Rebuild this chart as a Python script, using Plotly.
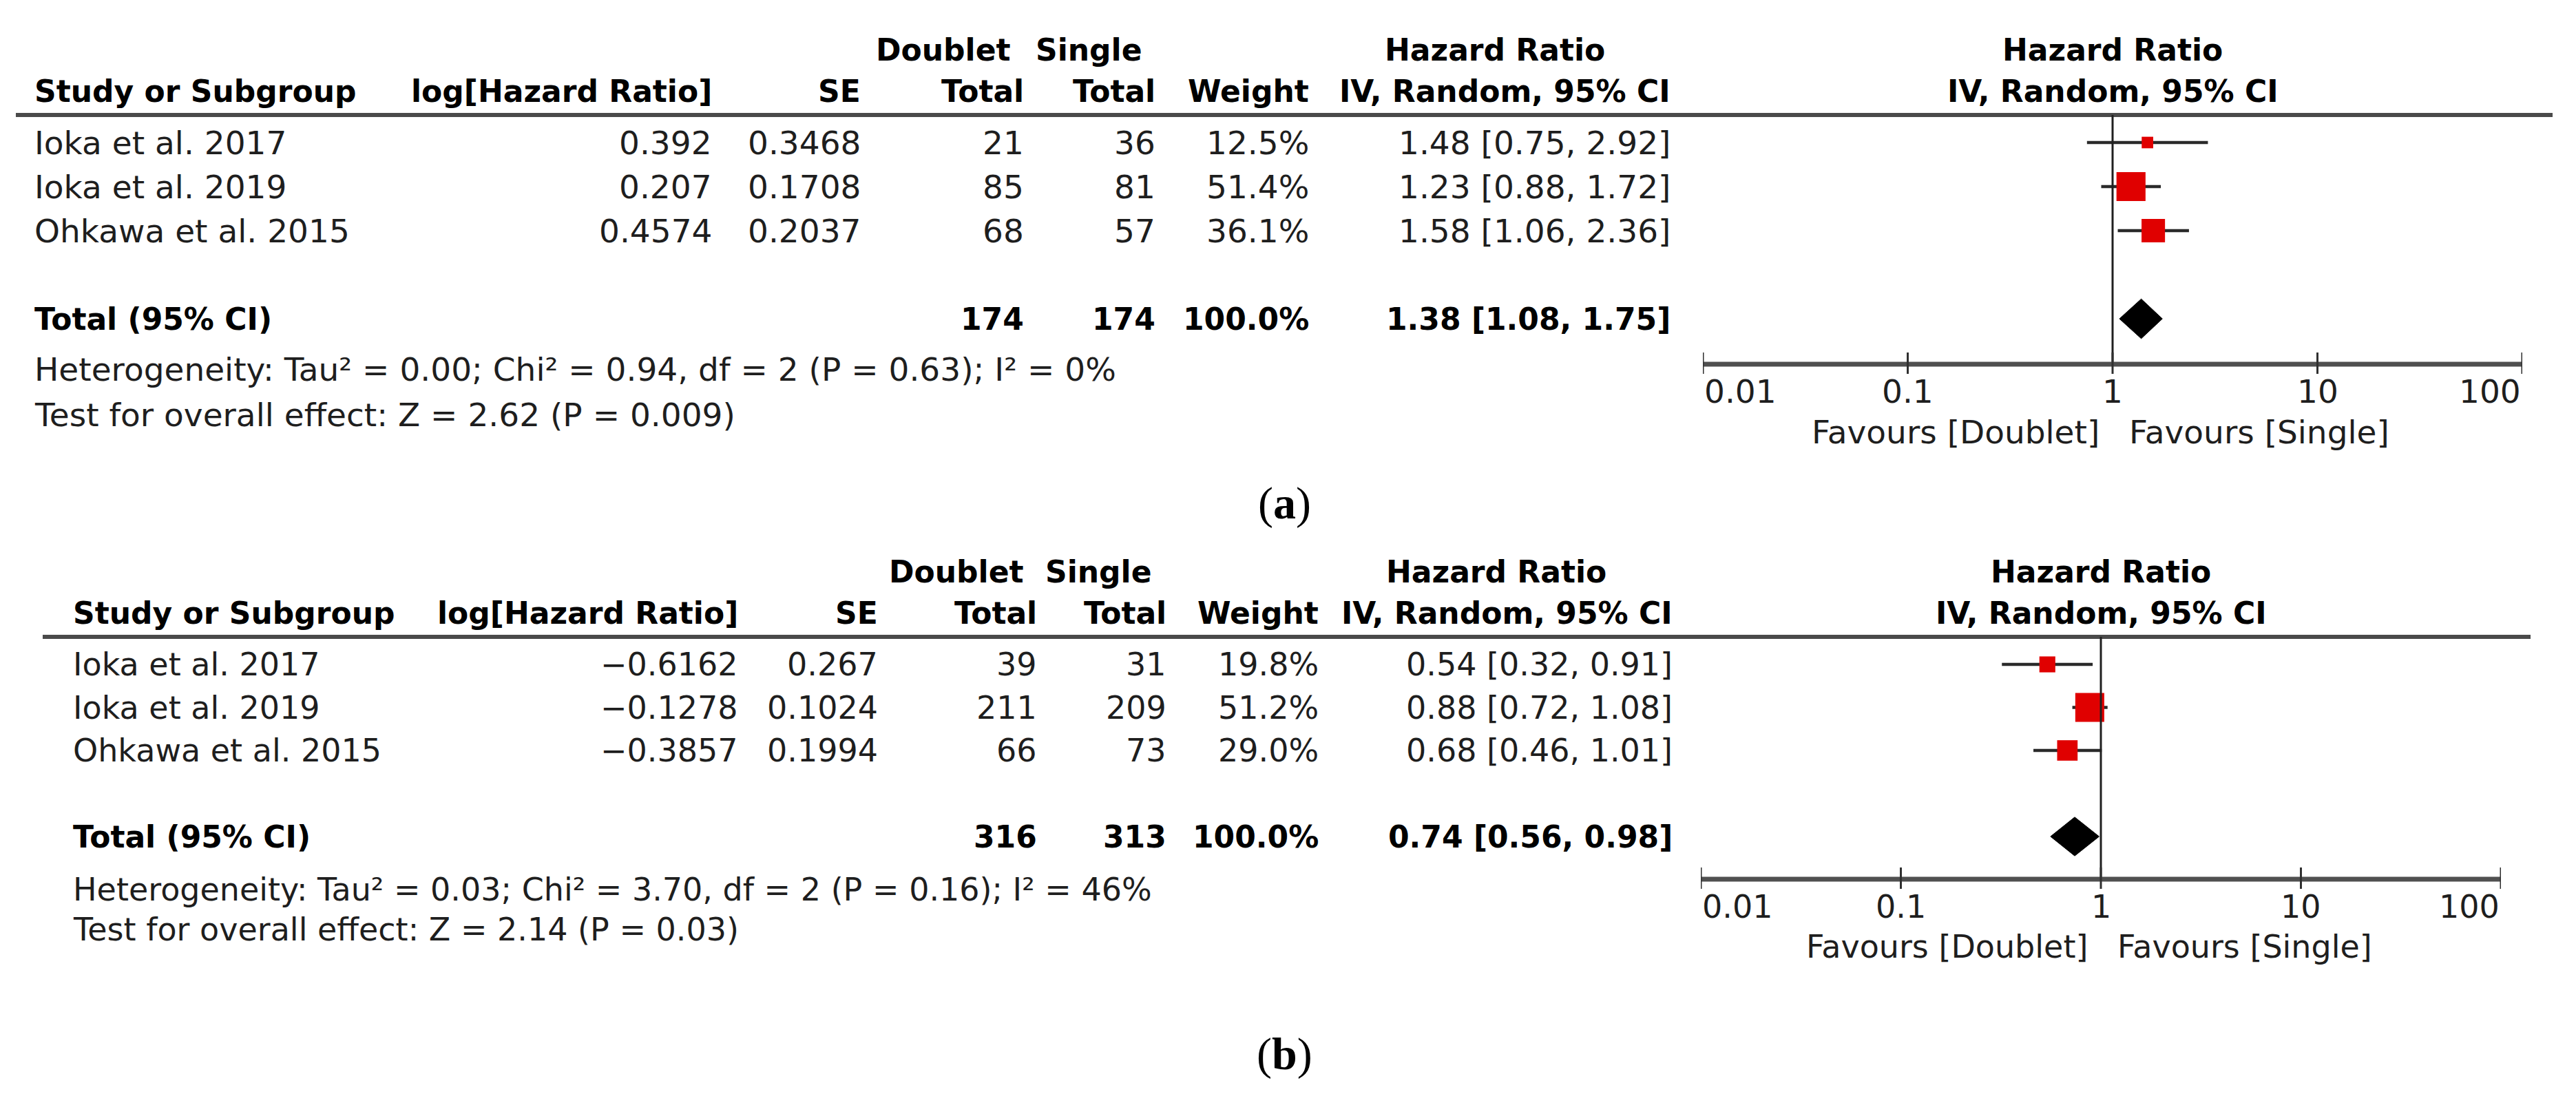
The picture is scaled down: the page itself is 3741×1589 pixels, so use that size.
import math
import plotly.graph_objects as go

W, H = 3741, 1589
FONT = "DejaVu Sans"
SERIF = "Liberation Serif"
TXT = "#1e1e1e"
RED = "#e00000"

# ---------------- data ----------------
studies = ["Ioka et al. 2017", "Ioka et al. 2019", "Ohkawa et al. 2015"]

a_log_hr = [0.392, 0.207, 0.4574]
a_se = [0.3468, 0.1708, 0.2037]
a_doublet = [21, 85, 68]
a_single = [36, 81, 57]
a_weight = [12.5, 51.4, 36.1]
a_hr = [1.48, 1.23, 1.58]
a_lo = [0.75, 0.88, 1.06]
a_hi = [2.92, 1.72, 2.36]
a_total = [174, 174, 100.0, 1.38, 1.08, 1.75]   # doublet, single, weight, HR, lo, hi
a_het = [0.00, 0.94, 2, "0.63", 0]               # tau2, chi2, df, P, I2
a_test = [2.62, "0.009"]                          # Z, P

b_log_hr = [-0.6162, -0.1278, -0.3857]
b_se = [0.267, 0.1024, 0.1994]
b_doublet = [39, 211, 66]
b_single = [31, 209, 73]
b_weight = [19.8, 51.2, 29.0]
b_hr = [0.54, 0.88, 0.68]
b_lo = [0.32, 0.72, 0.46]
b_hi = [0.91, 1.08, 1.01]
b_total = [316, 313, 100.0, 0.74, 0.56, 0.98]
b_het = [0.03, 3.70, 2, "0.16", 46]
b_test = [2.14, "0.03"]

tick_vals = [0.01, 0.1, 1, 10, 100]
tick_text = ["0.01", "0.1", "1", "10", "100"]
fav_left, fav_right = "Favours [Doublet]", "Favours [Single]"
panel_labels = ["a", "b"]

# ---------------- layout geometry (pixels) ----------------
PA = dict(name_x=48, loghr_r=1036, se_r=1252, dbl_r=1489, sgl_r=1680, wt_r=1903, ci_r=2428,
          ax_l=2473, ax_r=3663, line_l=23, line_r=3707, hdr1=72, hdr2=133, hline=167,
          row0=207, step=64, axis_y=529, tick_y=568, fav_y=628, het_y=537, test_y=602,
          dbl_hdr_r=1470, sgl_hdr_r=1661, mid_hr_c=2171, label_y=731, fs=47, fsb=44)
PB = dict(name_x=104, loghr_r=1074, se_r=1277, dbl_r=1508, sgl_r=1696, wt_r=1917, ci_r=2431,
          ax_l=2470, ax_r=3632, line_l=62, line_r=3675, hdr1=830, hdr2=890, hline=925,
          row0=965, step=62.5, axis_y=1277, tick_y=1317, fav_y=1375, het_y=1292, test_y=1350,
          dbl_hdr_r=1489, sgl_hdr_r=1675, mid_hr_c=2173, label_y=1531, fs=46, fsb=44)


def X(p):
    return p / W


def Y(p):
    return 1 - p / H


def fmt_num(v):
    s = str(v)
    return s.replace("-", "\u2212")


fig = go.Figure()
annotations = []
shapes = []


def ann(text, x, y, xanchor, size, bold=False, xref="paper", yref="paper", family=FONT, color=TXT, xshift=0):
    annotations.append(dict(
        text=text, x=x, y=y, xref=xref, yref=yref,
        xanchor=xanchor, yanchor="middle", showarrow=False, xshift=xshift,
        font=dict(family=family, size=size, color=("black" if bold else color),
                  weight=("bold" if bold else "normal"))))


def panel(P, sfx, log_hr, se, dbl, sgl, wt, hr, lo, hi, total, het, test, label):
    xa = "x" + sfx
    ya = "y" + sfx
    xk = "xaxis" + sfx
    yk = "yaxis" + sfx
    rmin = (P["axis_y"] - P["row0"]) / P["step"]
    rmax = (P["hline"] - P["row0"]) / P["step"]
    fig.layout[xk] = dict(type="log", range=[-2, 2], domain=[X(P["ax_l"]), X(P["ax_r"])],
                          anchor=ya, visible=False, fixedrange=True)
    fig.layout[yk] = dict(range=[rmin, rmax], domain=[Y(P["axis_y"]), Y(P["hline"])],
                          anchor=xa, visible=False, fixedrange=True)
    rows = list(range(len(hr)))
    total_row = len(hr) + 1
    fs, fsb = P["fs"], P["fsb"]

    # headers
    ann("Doublet", X(P["dbl_hdr_r"]), Y(P["hdr1"]), "right", fsb, True)
    ann("Single", X(P["sgl_hdr_r"]), Y(P["hdr1"]), "right", fsb, True)
    ann("Hazard Ratio", X(P["mid_hr_c"]), Y(P["hdr1"]), "center", fsb, True)
    ann("Hazard Ratio", X((P["ax_l"] + P["ax_r"]) / 2), Y(P["hdr1"]), "center", fsb, True)
    ann("Study or Subgroup", X(P["name_x"]), Y(P["hdr2"]), "left", fsb, True)
    ann("log[Hazard Ratio]", X(P["loghr_r"]), Y(P["hdr2"]), "right", fsb, True)
    ann("SE", X(P["se_r"]), Y(P["hdr2"]), "right", fsb, True)
    ann("Total", X(P["dbl_r"]), Y(P["hdr2"]), "right", fsb, True)
    ann("Total", X(P["sgl_r"]), Y(P["hdr2"]), "right", fsb, True)
    ann("Weight", X(P["wt_r"]), Y(P["hdr2"]), "right", fsb, True)
    ann("IV, Random, 95% CI", X(P["ci_r"]), Y(P["hdr2"]), "right", fsb, True)
    ann("IV, Random, 95% CI", X((P["ax_l"] + P["ax_r"]) / 2), Y(P["hdr2"]), "center", fsb, True)

    shapes.append(dict(type="line", xref="paper", yref="paper", x0=X(P["line_l"]), x1=X(P["line_r"]),
                       y0=Y(P["hline"]), y1=Y(P["hline"]), line=dict(color="#4a4a4a", width=6)))

    # study rows
    for i in rows:
        ann(studies[i], X(P["name_x"]), i, "left", fs, yref=ya)
        ann(fmt_num(log_hr[i]), X(P["loghr_r"]), i, "right", fs, yref=ya)
        ann(fmt_num(se[i]), X(P["se_r"]), i, "right", fs, yref=ya)
        ann(str(dbl[i]), X(P["dbl_r"]), i, "right", fs, yref=ya)
        ann(str(sgl[i]), X(P["sgl_r"]), i, "right", fs, yref=ya)
        ann("%.1f%%" % wt[i], X(P["wt_r"]), i, "right", fs, yref=ya)
        ann("%.2f [%.2f, %.2f]" % (hr[i], lo[i], hi[i]), X(P["ci_r"]), i, "right", fs, yref=ya)

    # total row
    ann("Total (95% CI)", X(P["name_x"]), total_row, "left", fsb, True, yref=ya)
    ann(str(total[0]), X(P["dbl_r"]), total_row, "right", fsb, True, yref=ya)
    ann(str(total[1]), X(P["sgl_r"]), total_row, "right", fsb, True, yref=ya)
    ann("%.1f%%" % total[2], X(P["wt_r"]), total_row, "right", fsb, True, yref=ya)
    ann("%.2f [%.2f, %.2f]" % (total[3], total[4], total[5]), X(P["ci_r"]), total_row, "right", fsb, True, yref=ya)

    het_txt = ("Heterogeneity: Tau\u00b2 = %.2f; Chi\u00b2 = %.2f, df = %d (P = %s); "
               "I\u00b2 = %d%%" % (het[0], het[1], het[2], het[3], het[4]))
    ann(het_txt, X(P["name_x"]), Y(P["het_y"]), "left", fs)
    ann("Test for overall effect: Z = %.2f (P = %s)" % (test[0], test[1]), X(P["name_x"]), Y(P["test_y"]), "left", fs)

    # CI lines + weighted squares
    fig.add_trace(go.Scatter(
        x=hr, y=rows, xaxis=xa, yaxis=ya, mode="markers", showlegend=False, hoverinfo="skip",
        error_x=dict(type="data", symmetric=False,
                     array=[h - m for h, m in zip(hi, hr)],
                     arrayminus=[m - l for m, l in zip(hr, lo)],
                     color="#2a2a2a", thickness=4.5, width=0),
        marker=dict(symbol="square", color=RED, opacity=1, size=[7 * math.sqrt(w) - 8 for w in wt],
                    line=dict(width=0))))

    # pooled diamond
    hh = 0.45
    fig.add_trace(go.Scatter(
        x=[total[4], total[3], total[5], total[3], total[4]],
        y=[total_row, total_row - hh, total_row, total_row + hh, total_row],
        xaxis=xa, yaxis=ya, mode="lines", fill="toself", fillcolor="black",
        line=dict(color="black", width=1), showlegend=False, hoverinfo="skip"))

    # line of no effect
    shapes.append(dict(type="line", xref=xa, yref="paper", x0=1, x1=1,
                       y0=Y(P["hline"]), y1=Y(P["axis_y"]), line=dict(color="#202020", width=3)))
    # axis line and ticks
    shapes.append(dict(type="line", xref=xa, yref="paper", x0=tick_vals[0], x1=tick_vals[-1],
                       y0=Y(P["axis_y"]), y1=Y(P["axis_y"]), line=dict(color="#505050", width=7)))
    for j, v in enumerate(tick_vals):
        shapes.append(dict(type="line", xref=xa, yref="paper", x0=v, x1=v,
                           y0=Y(P["axis_y"] - 17), y1=Y(P["axis_y"] + 14), line=dict(color="#303030", width=3)))
        anc = "left" if j == 0 else ("right" if j == len(tick_vals) - 1 else "center")
        # annotations on a log axis take log10 positions
        ann(tick_text[j], math.log10(v), Y(P["tick_y"]), anc, fs, xref=xa)

    ann(fav_left, math.log10(1), Y(P["fav_y"]), "right", fs, xref=xa, xshift=-17)
    ann(fav_right, math.log10(1), Y(P["fav_y"]), "left", fs, xref=xa, xshift=22)

    ann("(<b>%s</b>)" % label, X(1865), Y(P["label_y"]), "center", 66, family=SERIF, color="black")


panel(PA, "", a_log_hr, a_se, a_doublet, a_single, a_weight, a_hr, a_lo, a_hi, a_total, a_het, a_test, panel_labels[0])
panel(PB, "2", b_log_hr, b_se, b_doublet, b_single, b_weight, b_hr, b_lo, b_hi, b_total, b_het, b_test, panel_labels[1])

fig.update_layout(
    width=W, height=H, margin=dict(l=0, r=0, t=0, b=0),
    paper_bgcolor="white", plot_bgcolor="rgba(0,0,0,0)",
    annotations=annotations, shapes=shapes, showlegend=False)

fig.write_html("out.html", config={"displayModeBar": False},
               post_script="document.body.style.margin='0px';")
